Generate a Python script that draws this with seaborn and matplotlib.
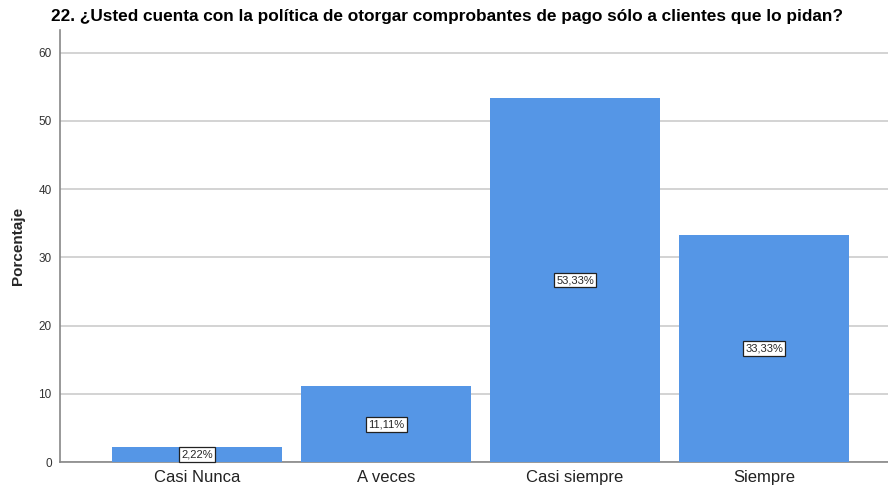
import matplotlib
matplotlib.use("Agg")
import matplotlib.pyplot as plt
import seaborn as sns
import pandas as pd

categories = ["Casi Nunca", "A veces", "Casi siempre", "Siempre"]
values = [2.22, 11.11, 53.33, 33.33]
labels = ["2,22%", "11,11%", "53,33%", "33,33%"]
yticks = [0, 10, 20, 30, 40, 50, 60]

sns.set_style("white")
plt.rcParams['font.family'] = ['Liberation Sans', 'DejaVu Sans']

df = pd.DataFrame({"cat": categories, "val": values})

fig = plt.figure(figsize=(8.88, 4.9), dpi=100)
ax = fig.add_axes([60/888, 1-462/490, 1-60/888, (462-30)/490])

sns.barplot(data=df, x="cat", y="val", color="#5596E6", saturation=1, width=0.9, ax=ax, zorder=3)
for p in ax.patches:
    p.set_edgecolor("none")

ax.set_xlim(-0.725, 3.656)
ax.set_ylim(0, 63.3)
ax.set_yticks(yticks)
ax.set_yticklabels([str(t) for t in yticks], fontsize=8.5, color="#333333")
ax.yaxis.grid(True, color="#CCCCCC", linewidth=1.2, zorder=0)
ax.set_axisbelow(True)
ax.tick_params(axis="both", length=0)
ax.tick_params(axis="y", pad=6)
ax.tick_params(axis="x", pad=6, labelsize=12, labelcolor="#222222")
for s in ["top", "right"]:
    ax.spines[s].set_visible(False)
for s in ["left", "bottom"]:
    ax.spines[s].set_color("#888888")
    ax.spines[s].set_linewidth(1.2)
ax.set_xlabel("")
ax.set_ylabel("Porcentaje", fontsize=11, fontweight="bold", labelpad=10)

for i, (v, lab) in enumerate(zip(values, labels)):
    ax.text(i, v/2, lab, ha="center", va="center", fontsize=8, zorder=5,
            bbox=dict(boxstyle="square,pad=0.22", facecolor="white", edgecolor="#222222", linewidth=0.9))

fig.text(447/888, 1-16/490, "22. ¿Usted cuenta con la política de otorgar comprobantes de pago sólo a clientes que lo pidan?",
         ha="center", va="center", fontsize=12.4, fontweight="bold", color="black")

fig.savefig("out.png", dpi=100)
